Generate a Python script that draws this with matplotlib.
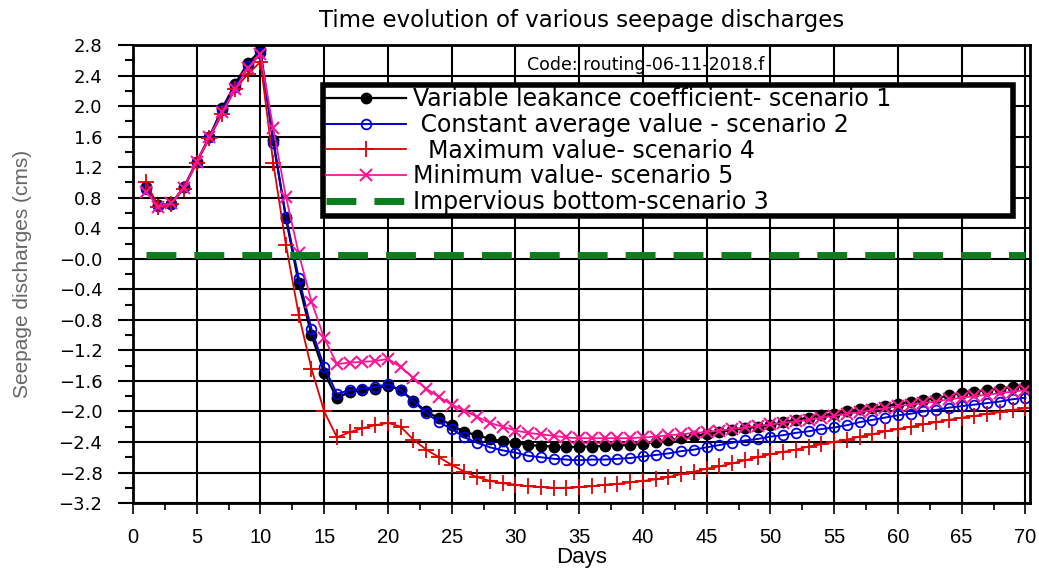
import numpy as np
import matplotlib
matplotlib.use("Agg")
import matplotlib.pyplot as plt
from matplotlib.ticker import MultipleLocator, FuncFormatter

# days 1..70
days = list(range(1, 71))

# scenario 1 - variable leakance coefficient
s1 = [0.94, 0.70, 0.72, 0.94, 1.27, 1.60, 1.97, 2.29, 2.56, 2.73,
      1.56, 0.53, -0.32, -1.00, -1.49, -1.83, -1.74, -1.72, -1.70, -1.66,
      -1.72, -1.86, -2.00, -2.09, -2.18, -2.27, -2.31, -2.36, -2.39, -2.41,
      -2.44, -2.45, -2.46, -2.47, -2.46, -2.46, -2.45, -2.44, -2.44, -2.42,
      -2.40, -2.38, -2.35, -2.32, -2.30, -2.27, -2.24, -2.22, -2.20, -2.18,
      -2.14, -2.11, -2.08, -2.05, -2.03, -2.00, -1.97, -1.95, -1.93, -1.90,
      -1.87, -1.85, -1.83, -1.79, -1.76, -1.74, -1.72, -1.70, -1.68, -1.66]

# scenario 2 - constant average value
s2 = [0.92, 0.69, 0.72, 0.94, 1.27, 1.60, 1.95, 2.25, 2.52, 2.70,
      1.52, 0.55, -0.25, -0.92, -1.42, -1.77, -1.72, -1.70, -1.68, -1.64,
      -1.72, -1.87, -2.02, -2.14, -2.23, -2.34, -2.41, -2.47, -2.51, -2.54,
      -2.58, -2.60, -2.62, -2.63, -2.64, -2.63, -2.63, -2.62, -2.61, -2.59,
      -2.57, -2.55, -2.52, -2.50, -2.47, -2.44, -2.41, -2.38, -2.36, -2.33,
      -2.31, -2.28, -2.26, -2.23, -2.21, -2.18, -2.14, -2.11, -2.08, -2.05,
      -2.03, -2.00, -1.98, -1.95, -1.93, -1.91, -1.89, -1.87, -1.84, -1.82]

# scenario 4 - maximum value
s4 = [1.01, 0.68, 0.72, 0.92, 1.26, 1.58, 1.90, 2.22, 2.42, 2.58,
      1.26, 0.18, -0.73, -1.44, -2.00, -2.34, -2.27, -2.22, -2.18, -2.15,
      -2.20, -2.37, -2.50, -2.60, -2.70, -2.79, -2.86, -2.91, -2.94, -2.96,
      -2.98, -2.99, -3.00, -3.00, -2.99, -2.98, -2.96, -2.95, -2.93, -2.91,
      -2.89, -2.86, -2.82, -2.79, -2.75, -2.72, -2.68, -2.64, -2.60, -2.56,
      -2.53, -2.50, -2.46, -2.43, -2.40, -2.37, -2.33, -2.30, -2.26, -2.23,
      -2.20, -2.17, -2.14, -2.11, -2.08, -2.06, -2.03, -2.01, -1.98, -1.96]

# scenario 5 - minimum value
s5 = [0.88, 0.68, 0.73, 0.93, 1.27, 1.60, 1.92, 2.22, 2.50, 2.68,
      1.71, 0.81, 0.07, -0.56, -1.04, -1.38, -1.36, -1.35, -1.34, -1.31,
      -1.42, -1.56, -1.70, -1.81, -1.91, -1.99, -2.07, -2.15, -2.20, -2.25,
      -2.28, -2.30, -2.32, -2.34, -2.35, -2.35, -2.35, -2.35, -2.35, -2.34,
      -2.33, -2.31, -2.30, -2.28, -2.27, -2.25, -2.23, -2.21, -2.19, -2.17,
      -2.15, -2.13, -2.11, -2.08, -2.06, -2.03, -2.01, -1.98, -1.96, -1.93,
      -1.91, -1.89, -1.87, -1.84, -1.82, -1.80, -1.78, -1.76, -1.74, -1.72]

# scenario 3 - impervious bottom (drawn just above zero in the source)
s3 = [0.05] * 70

labels = ["Variable leakance coefficient- scenario 1",
          " Constant average value - scenario 2",
          "  Maximum value- scenario 4",
          "Minimum value- scenario 5",
          "Impervious bottom-scenario 3"]

plt.rcParams['font.family'] = ['DejaVu Sans']

fig = plt.figure(figsize=(10.39, 5.71), dpi=100)
ax = fig.add_axes([0.128, 0.119, 0.9918 - 0.128, 0.921 - 0.119])

ax.plot(days, s1, color="black", lw=1.6, marker="o", ms=7.5, mfc="black", mec="black", label=labels[0])
ax.plot(days, s2, color="#0000cc", lw=1.4, marker="o", ms=7, mfc="none", mec="#0000ee", mew=1.3, label=labels[1])
ax.plot(days, s4, color="#e00000", lw=1.3, marker="+", ms=11, mew=1.3, label=labels[2])
ax.plot(days, s5, color="#ff1493", lw=1.3, marker="x", ms=9, mew=1.5, label=labels[3])
ax.plot(days, s3, color="#0a7d1e", lw=5, dashes=(4.3, 2.6), label=labels[4])

ax.set_xlim(0, 70.4)
ax.set_ylim(-3.2, 2.8)
ax.xaxis.set_major_locator(MultipleLocator(5))
ax.xaxis.set_minor_locator(MultipleLocator(2.5))
ax.yaxis.set_major_locator(MultipleLocator(0.4))
ax.yaxis.set_minor_locator(MultipleLocator(0.2))

def yfmt(v, pos):
    if abs(v) < 1e-9:
        return "\u22120.0"
    return f"{v:.1f}".replace("-", "\u2212")
ax.yaxis.set_major_formatter(FuncFormatter(yfmt))

ax.grid(True, which="major", color="black", lw=1.5)
ax.set_axisbelow(True)
for s in ax.spines.values():
    s.set_linewidth(2)
ax.tick_params(axis="y", which="major", length=11, width=1.5, labelsize=13, pad=11)
ax.tick_params(axis="y", which="minor", length=6, width=1.5)
ax.tick_params(axis="x", which="major", length=8, width=1.2, labelsize=14.5, pad=10)
ax.tick_params(axis="x", which="minor", length=5, width=1.2)
for t in ax.get_xticklabels():
    t.set_family("Liberation Sans")

ax.set_xlabel("Days", fontsize=16, labelpad=0, family="Liberation Sans")
ax.set_ylabel("Seepage discharges (cms)", fontsize=15, color="#666666", family="Liberation Sans")
ax.yaxis.set_label_coords(-0.112, 0.5)
ax.set_title("Time evolution of various seepage discharges", fontsize=16.5, pad=13)

ax.text(40.2, 2.54, "Code: routing-06-11-2018.f", fontsize=12.5, ha="center", va="center")

leg = ax.legend(loc="upper left", bbox_to_anchor=(0.212, 0.629, 0.769, 0.284), mode="expand",
                borderaxespad=0, fontsize=17, fancybox=False, framealpha=1, edgecolor="black",
                handlelength=3.4, handletextpad=0.3, labelspacing=0.07, borderpad=0.1)
leg.get_frame().set_linewidth(4)

fig.savefig("out.png", dpi=100)
